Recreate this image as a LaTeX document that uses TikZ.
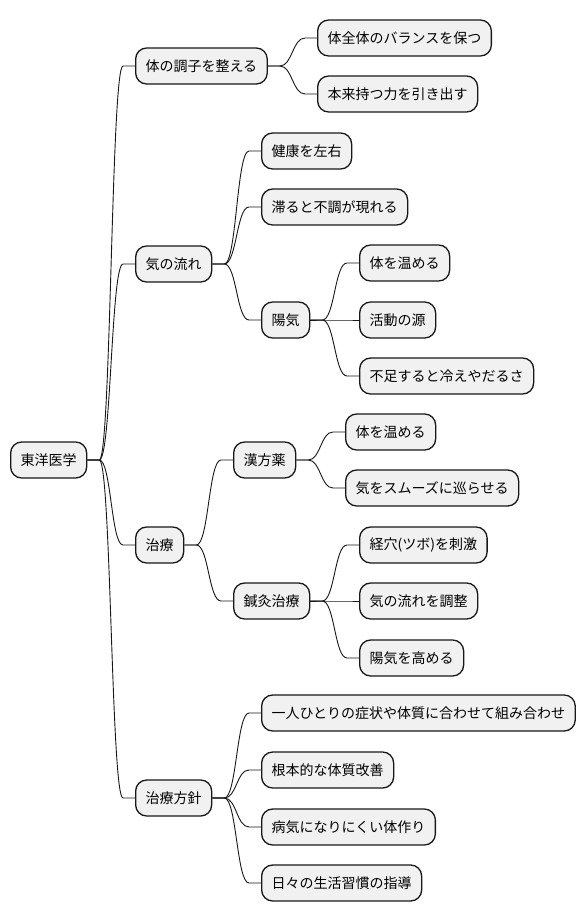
\documentclass[tikz,border=0pt]{standalone}
\usepackage{fontspec}
\setmainfont{Noto Sans CJK JP}
\usetikzlibrary{calc}
\definecolor{boxfill}{HTML}{F1F1F1}
\definecolor{boxline}{HTML}{181818}
\tikzset{
  mbox/.style={draw=boxline, fill=boxfill, line width=1.3pt, rounded corners=11pt,
    minimum height=36pt, inner xsep=10pt, inner ysep=0pt, anchor=west,
    font=\fontsize{14pt}{16pt}\selectfont, text=black},
  conn/.style={draw=boxline, line width=0.9pt}
}
\newcommand\mmlink[2]{%
  \draw[conn] let \p1=(#1.east), \p2=(#2.west) in
    (\p1) -- (\x1+12pt,\y1) .. controls ({(\x1+\x2)/2},\y1) and ({(\x1+\x2)/2},\y2) .. (\x2-12pt,\y2) -- (\p2);}
\begin{document}
\begin{tikzpicture}[x=1pt,y=-1pt]
\useasboundingbox[fill=white] (0,0) rectangle (586,921);
% root
\node[mbox] (root) at (10,460) {東洋医学};
% level 1
\node[mbox] (a) at (135,66) {体の調子を整える};
\node[mbox] (b) at (135,264) {気の流れ};
\node[mbox] (c) at (135,545) {治療};
\node[mbox] (d) at (135,798) {治療方針};
% under a
\node[mbox] (a1) at (317,38) {体全体のバランスを保つ};
\node[mbox] (a2) at (317,94) {本来持つ力を引き出す};
% under b
\node[mbox] (b1) at (261,151) {健康を左右};
\node[mbox] (b2) at (261,207) {滞ると不調が現れる};
\node[mbox] (b3) at (261,320) {陽気};
\node[mbox] (b31) at (359,263) {体を温める};
\node[mbox] (b32) at (359,320) {活動の源};
\node[mbox] (b33) at (359,376) {不足すると冷えやだるさ};
% under c
\node[mbox] (c1) at (233,460) {漢方薬};
\node[mbox] (c11) at (345,432) {体を温める};
\node[mbox] (c12) at (345,488) {気をスムーズに巡らせる};
\node[mbox] (c2) at (233,601) {鍼灸治療};
\node[mbox] (c21) at (359,545) {経穴(ツボ)を刺激};
\node[mbox] (c22) at (359,601) {気の流れを調整};
\node[mbox] (c23) at (359,658) {陽気を高める};
% under d
\node[mbox] (d1) at (261,713) {一人ひとりの症状や体質に合わせて組み合わせ};
\node[mbox] (d2) at (261,770) {根本的な体質改善};
\node[mbox] (d3) at (261,827) {病気になりにくい体作り};
\node[mbox] (d4) at (261,883) {日々の生活習慣の指導};
% connectors
\mmlink{root}{a}\mmlink{root}{b}\mmlink{root}{c}\mmlink{root}{d}
\mmlink{a}{a1}\mmlink{a}{a2}
\mmlink{b}{b1}\mmlink{b}{b2}\mmlink{b}{b3}
\mmlink{b3}{b31}\mmlink{b3}{b32}\mmlink{b3}{b33}
\mmlink{c}{c1}\mmlink{c}{c2}
\mmlink{c1}{c11}\mmlink{c1}{c12}
\mmlink{c2}{c21}\mmlink{c2}{c22}\mmlink{c2}{c23}
\mmlink{d}{d1}\mmlink{d}{d2}\mmlink{d}{d3}\mmlink{d}{d4}
\end{tikzpicture}
\end{document}
